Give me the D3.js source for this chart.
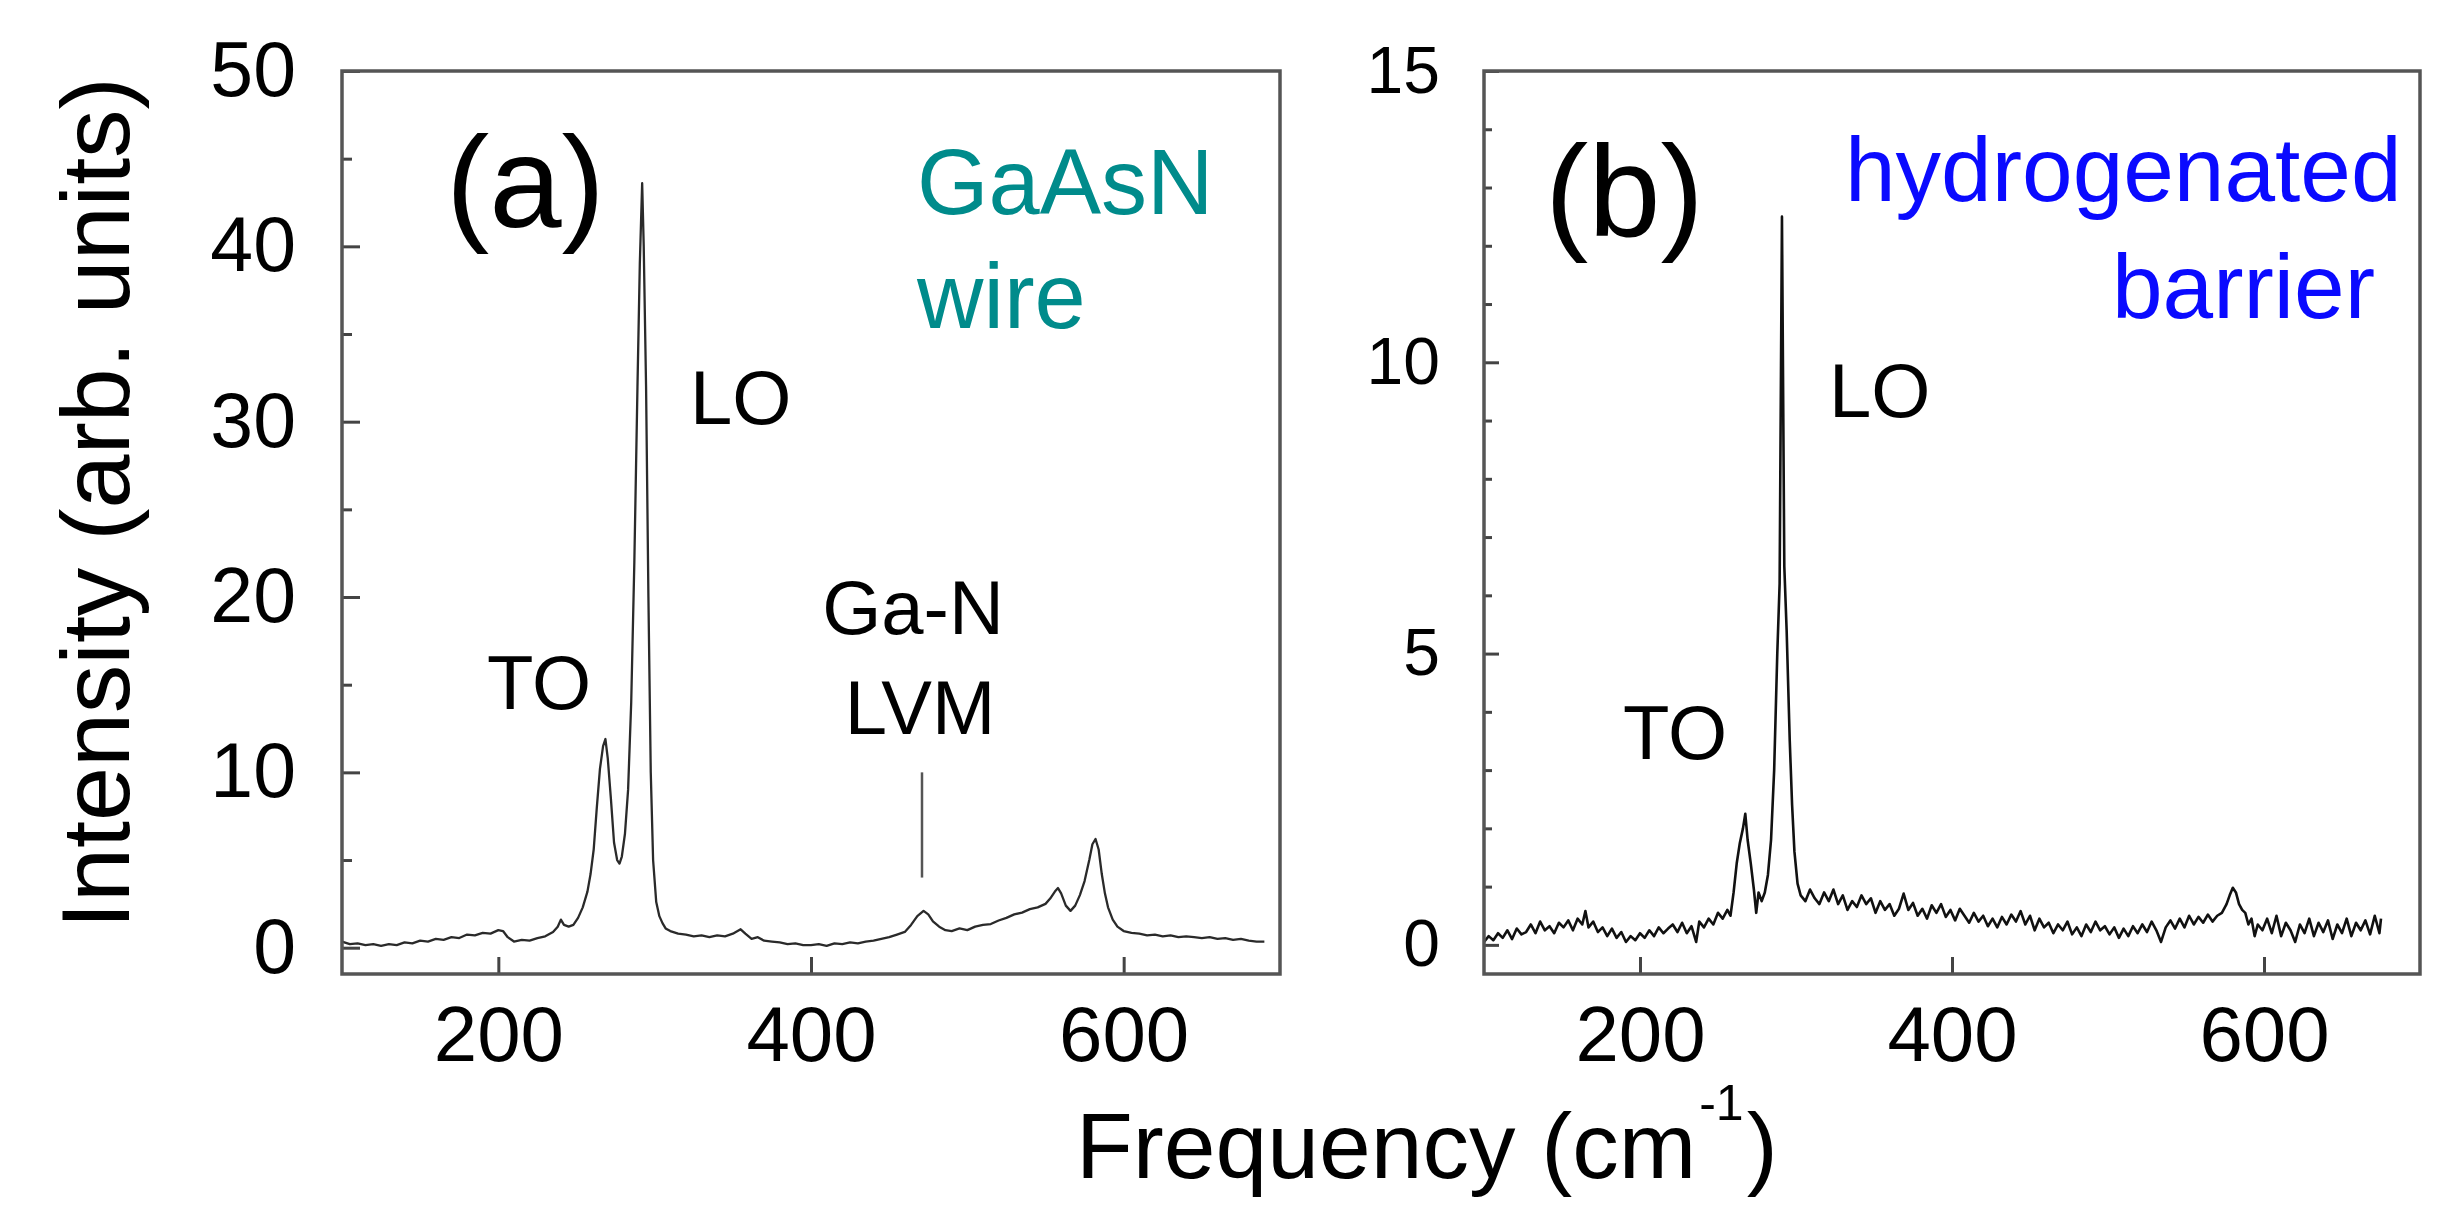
<!DOCTYPE html>
<html>
<head>
<meta charset="utf-8">
<script src="https://d3js.org/d3.v7.min.js"></script>
<style>
  body { margin: 0; background: #fff; }
  text { font-family: "Liberation Sans", Arial, sans-serif; }
</style>
</head>
<body>
<svg id="chart"></svg>
<script>
// Raman spectrum, panel (a): GaAsN wire
var freqA = [100,105,110,115,120,125,130,135,140,145,150,155,160,165,170,175,180,185,190,195,
  200,203,206,210,215,220,225,230,235,238,240,242,245,248,251,254,257,259,261,263,265,267,268.5,
  270,272,274,276,277.5,279,281,283,285,287,289,290.5,292,293,294.5,296,297.5,299,301,303,305,307,
  310,315,320,325,330,335,340,345,350,355,358,362,366,370,375,380,385,390,395,400,405,410,415,420,
  425,430,435,440,445,450,455,460,464,468,472,475,478,482,486,490,495,500,505,510,515,520,525,530,
  535,540,545,550,553,556,558,560,563,566,569,572,575,578,580,582,584,586,588,590,593,596,600,605,
  610,615,620,625,630,635,640,645,650,655,660,665,670,675,680,685,690];
var intensityA = [0.35,0.2,0.25,0.15,0.2,0.1,0.2,0.15,0.3,0.25,0.4,0.35,0.5,0.45,0.6,0.55,0.75,0.7,0.85,0.8,
  1.0,0.95,0.6,0.35,0.45,0.4,0.55,0.65,0.9,1.2,1.6,1.3,1.2,1.3,1.7,2.3,3.2,4.2,5.6,8.0,10.2,11.5,11.9,
  10.8,8.5,6.0,5.0,4.8,5.2,6.5,9.0,14,22,32,39,43.6,40,32,20,10,5,2.6,1.8,1.4,1.1,
  0.95,0.8,0.75,0.65,0.7,0.6,0.7,0.65,0.8,1.05,0.8,0.5,0.6,0.4,0.35,0.3,0.2,0.25,0.15,0.15,0.2,0.1,0.25,0.2,
  0.3,0.25,0.35,0.4,0.5,0.6,0.75,0.9,1.3,1.8,2.1,1.9,1.5,1.2,1.0,0.95,1.1,1.0,1.2,1.3,1.35,1.55,1.7,1.9,
  2.0,2.2,2.3,2.5,2.8,3.2,3.4,3.1,2.4,2.1,2.4,3.0,3.8,5.0,5.9,6.2,5.6,4.2,3.1,2.3,1.6,1.2,0.95,0.85,
  0.8,0.7,0.75,0.65,0.7,0.6,0.65,0.6,0.55,0.6,0.5,0.55,0.45,0.5,0.4,0.35,0.35];

// Raman spectrum, panel (b): hydrogenated barrier
var freqB = [100,103,106,109,112,115,118,121,124,127,130,133,136,139,142,145,148,151,154,157,160,163,165,167,
  170,173,176,179,182,185,188,191,194,197,200,203,206,209,212,215,218,221,224,227,230,233,236,238,241,244,
  247,250,253,256,258,260,262,264,266,267.5,269,271,273,274.5,276,278,280,282,284,286,288,289.5,291,292.5,
  294,296,297.5,299,301,303,306,309,312,315,318,321,324,327,330,333,336,339,342,345,348,351,354,357,360,
  363,366,369,372,375,378,381,384,387,390,393,396,399,402,405,408,411,414,417,420,423,426,429,432,435,438,
  441,444,447,450,453,456,459,462,465,468,471,474,477,480,483,486,489,492,495,498,501,504,507,510,513,516,
  519,522,525,528,531,534,537,540,543,546,549,552,555,558,561,564,567,570,573,576,578,580,582,584,586,588,
  590,592,594,596,599,602,605,608,611,614,617,620,623,626,629,632,635,638,641,644,647,650,653,656,659,662,
  665,668,671,674,675];
var intensityB = [0.05,0.15,0.08,0.2,0.12,0.25,0.1,0.28,0.18,0.22,0.35,0.2,0.4,0.25,0.32,0.2,0.38,0.3,0.42,0.25,0.45,0.35,0.58,0.3,
  0.4,0.22,0.3,0.15,0.28,0.12,0.22,0.05,0.15,0.08,0.2,0.12,0.25,0.15,0.3,0.2,0.28,0.35,0.22,0.38,0.2,0.32,0.05,0.4,0.3,0.45,
  0.35,0.55,0.45,0.6,0.5,0.9,1.4,1.75,2.0,2.25,1.8,1.4,0.95,0.55,0.9,0.75,0.9,1.2,1.8,3.0,5.0,6.2,12.5,6.5,
  5.4,3.5,2.4,1.6,1.05,0.85,0.75,0.95,0.8,0.7,0.9,0.75,0.95,0.7,0.85,0.6,0.75,0.65,0.85,0.7,0.8,0.55,0.75,0.6,0.7,
  0.5,0.62,0.88,0.6,0.72,0.5,0.62,0.45,0.68,0.55,0.7,0.48,0.6,0.42,0.62,0.5,0.38,0.55,0.4,0.5,0.32,0.45,0.3,0.48,0.35,0.52,
  0.4,0.58,0.35,0.5,0.25,0.45,0.3,0.38,0.2,0.35,0.25,0.4,0.18,0.3,0.15,0.35,0.22,0.4,0.25,0.32,0.18,0.3,0.12,0.28,0.15,0.32,
  0.2,0.35,0.22,0.4,0.25,0.05,0.3,0.42,0.28,0.45,0.3,0.5,0.35,0.48,0.38,0.52,0.4,0.5,0.55,0.7,0.85,0.98,0.9,0.7,0.6,0.55,
  0.35,0.45,0.15,0.35,0.25,0.45,0.2,0.5,0.15,0.38,0.25,0.05,0.35,0.2,0.45,0.15,0.38,0.22,0.42,0.1,0.35,0.2,0.45,0.15,0.38,0.25,
  0.42,0.18,0.5,0.2,0.45];

// Axis ticks
var xTicks = [200, 400, 600];
var yTicksA = [0, 10, 20, 30, 40, 50];
var yMinorA = [5, 15, 25, 35, 45];
var yTicksB = [0, 5, 10, 15];
var yMinorB = [1, 2, 3, 4, 6, 7, 8, 9, 11, 12, 13, 14];

var svg = d3.select("#chart")
    .attr("width", 2452)
    .attr("height", 1232);

// One panel: frame, inward ticks, spectrum line
function drawPanel(opt) {
    var x = d3.scaleLinear().domain([100, 700]).range([opt.left, opt.right]);
    var y = d3.scaleLinear().domain(opt.yDomain).range([opt.bottom, opt.top]);

    var g = svg.append("g");

    // spectrum
    var line = d3.line()
        .x(function(d) { return x(d[0]); })
        .y(function(d) { return y(d[1]); });
    g.append("path")
        .datum(d3.zip(opt.freq, opt.values))
        .attr("d", line)
        .attr("fill", "none")
        .attr("stroke", opt.lineColor)
        .attr("stroke-width", opt.lineWidth)
        .attr("stroke-linejoin", "round");

    // minor y ticks
    g.append("g")
        .attr("transform", "translate(" + opt.left + ",0)")
        .call(d3.axisLeft(y).tickValues(opt.yMinor).tickSize(-opt.minorLen).tickFormat(""))
        .call(function(a) { a.select(".domain").remove(); })
        .selectAll("line").attr("stroke", "#444").attr("stroke-width", 3);

    // major y ticks
    g.append("g")
        .attr("transform", "translate(" + opt.left + ",0)")
        .call(d3.axisLeft(y).tickValues(opt.yTicks).tickSizeInner(-opt.majorLen).tickSizeOuter(0).tickPadding(opt.yPad))
        .call(function(a) { a.select(".domain").remove(); })
        .call(function(a) {
            a.selectAll("line").attr("stroke", "#444").attr("stroke-width", 3);
            a.selectAll("text").attr("font-size", opt.yFont).attr("fill", "#000")
                .style("font-family", "'Liberation Sans', Arial, sans-serif");
        });

    // x ticks
    g.append("g")
        .attr("transform", "translate(0," + opt.bottom + ")")
        .call(d3.axisBottom(x).tickValues(xTicks).tickSizeInner(-17).tickSizeOuter(0).tickPadding(32))
        .call(function(a) { a.select(".domain").remove(); })
        .call(function(a) {
            a.selectAll("line").attr("stroke", "#444").attr("stroke-width", 3);
            a.selectAll("text").attr("font-size", 78).attr("fill", "#000")
                .style("font-family", "'Liberation Sans', Arial, sans-serif");
        });

    // frame
    g.append("rect")
        .attr("x", opt.left)
        .attr("y", opt.top)
        .attr("width", opt.right - opt.left)
        .attr("height", opt.bottom - opt.top)
        .attr("fill", "none")
        .attr("stroke", "#555")
        .attr("stroke-width", 3.5);

    return { g: g, x: x, y: y };
}

var pa = drawPanel({
    left: 342, right: 1280, top: 71, bottom: 974,
    yDomain: [-1.5, 50], yTicks: yTicksA, yMinor: yMinorA,
    majorLen: 18, minorLen: 10, yPad: 46, yFont: 77,
    freq: freqA, values: intensityA, lineColor: "#2a2a2a", lineWidth: 2.3
});

var pb = drawPanel({
    left: 1484, right: 2420, top: 71, bottom: 974,
    yDomain: [-0.5, 15], yTicks: yTicksB, yMinor: yMinorB,
    majorLen: 15, minorLen: 8, yPad: 44, yFont: 66,
    freq: freqB, values: intensityB, lineColor: "#111", lineWidth: 2.6
});

// Ga-N LVM marker
pa.g.append("line")
    .attr("x1", pa.x(471)).attr("x2", pa.x(471))
    .attr("y1", pa.y(4)).attr("y2", pa.y(10))
    .attr("stroke", "#555")
    .attr("stroke-width", 2.5);

// Annotations
function label(txt, x, y, size, color, anchor) {
    svg.append("text")
        .attr("x", x)
        .attr("y", y)
        .attr("font-size", size)
        .attr("fill", color || "#000")
        .attr("text-anchor", anchor || "start")
        .text(txt);
}

label("(a)", 446, 227, 130);
label("GaAsN", 917, 214, 92, "#008b8b");
label("wire", 917, 328, 92, "#008b8b");
label("LO", 690, 424, 76);
label("TO", 487, 709, 76);
label("Ga-N", 913, 634, 76, "#000", "middle");
label("LVM", 920, 734, 76, "#000", "middle");

label("(b)", 1545, 236, 130);
label("hydrogenated", 1845, 201, 91, "#0a0aff");
label("barrier", 2112, 318, 91, "#0a0aff");
label("LO", 1829, 417, 76);
label("TO", 1623, 759, 76);

// Axis titles
svg.append("text")
    .attr("transform", "translate(129,503) rotate(-90)")
    .attr("text-anchor", "middle")
    .attr("font-size", 97)
    .text("Intensity (arb. units)");

var xt = svg.append("text")
    .attr("x", 1076)
    .attr("y", 1178)
    .attr("font-size", 93);
xt.append("tspan").text("Frequency (cm");
xt.append("tspan").attr("font-size", 50).attr("dy", -58).attr("dx", 3).text("-1");
xt.append("tspan").attr("dy", 58).attr("dx", 3).text(")");
</script>
</body>
</html>
